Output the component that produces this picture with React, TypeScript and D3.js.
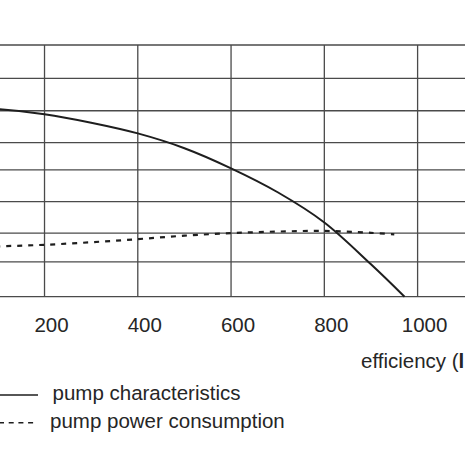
import React from "react";
import * as d3 from "d3";

const xTicks = [200, 400, 600, 800, 1000];
const xTickLabels = ["200", "400", "600", "800", "1000"];
const yGrid = [0, 1.11, 2.02, 3.02, 4.03, 4.9, 5.91, 6.94, 8];
const xGrid = [200, 400, 600, 800, 1000];

const pumpX = [0, 100, 200, 300, 400, 500, 600, 700, 800, 900, 972];
const pumpY = [6.02, 5.96, 5.8, 5.53, 5.19, 4.72, 4.08, 3.32, 2.36, 1.03, 0];

const powerX = [0, 100, 200, 300, 400, 500, 600, 700, 800, 900, 950];
const powerY = [1.56, 1.6, 1.65, 1.73, 1.83, 1.94, 2.02, 2.07, 2.09, 2.03, 1.98];

const legendLabels = ["pump characteristics", "pump power consumption"];
const xAxisTitle = "efficiency (";
const xAxisUnit = "l";

export default function App() {
  const W = 465;
  const H = 465;
  const x = d3.scaleLinear().domain([0, 1000]).range([-48.75, 417.6]);
  const y = d3.scaleLinear().domain([0, 8]).range([296.7, 45]);
  const line = d3
    .line<[number, number]>()
    .x((d) => x(d[0]))
    .y((d) => y(d[1]))
    .curve(d3.curveCatmullRom.alpha(0.5));
  const pump: [number, number][] = pumpX.map((v, i) => [v, pumpY[i]]);
  const power: [number, number][] = powerX.map((v, i) => [v, powerY[i]]);
  const font = "'Liberation Sans', Arial, Helvetica, sans-serif";
  const grid = "#4a4a4a";
  const ink = "#1e1e1e";
  const txt = "#262626";
  return (
    <svg
      width={W}
      height={H}
      style={{ position: "absolute", left: 0, top: 0, background: "#fff" }}
    >
      <rect x={0} y={0} width={W} height={H} fill="#fff" />
      {yGrid.map((v, i) => (
        <line
          key={"h" + i}
          x1={0}
          x2={W}
          y1={y(v)}
          y2={y(v)}
          stroke={grid}
          strokeWidth={1.3}
        />
      ))}
      {xGrid.map((v, i) => (
        <line
          key={"v" + i}
          x1={x(v)}
          x2={x(v)}
          y1={y(8)}
          y2={y(0)}
          stroke={grid}
          strokeWidth={1.3}
        />
      ))}
      <path d={line(power) || ""} fill="none" stroke={ink} strokeWidth={2.2} strokeDasharray="5,6" />
      <path d={line(pump) || ""} fill="none" stroke={ink} strokeWidth={2} />
      {xTicks.map((v, i) => (
        <text
          key={"t" + i}
          x={x(v) + 7}
          y={331.5}
          textAnchor="middle"
          fontFamily={font}
          fontSize={20.5}
          fill={txt}
        >
          {xTickLabels[i]}
        </text>
      ))}
      <text x={361} y={367.5} fontFamily={font} fontSize={20.5} fill={txt}>
        {xAxisTitle}
        <tspan fontWeight="bold">{xAxisUnit}</tspan>
      </text>
      <line x1={0} x2={38} y1={395} y2={395} stroke={ink} strokeWidth={1.3} />
      <text x={52.5} y={400} fontFamily={font} fontSize={20.5} fill={txt}>
        {legendLabels[0]}
      </text>
      <line
        x1={0}
        x2={34}
        y1={422.7}
        y2={422.7}
        stroke={ink}
        strokeWidth={1.6}
        strokeDasharray="5,4.7"
        strokeDashoffset={1}
      />
      <text x={50} y={428.3} fontFamily={font} fontSize={20.5} fill={txt}>
        {legendLabels[1]}
      </text>
    </svg>
  );
}
